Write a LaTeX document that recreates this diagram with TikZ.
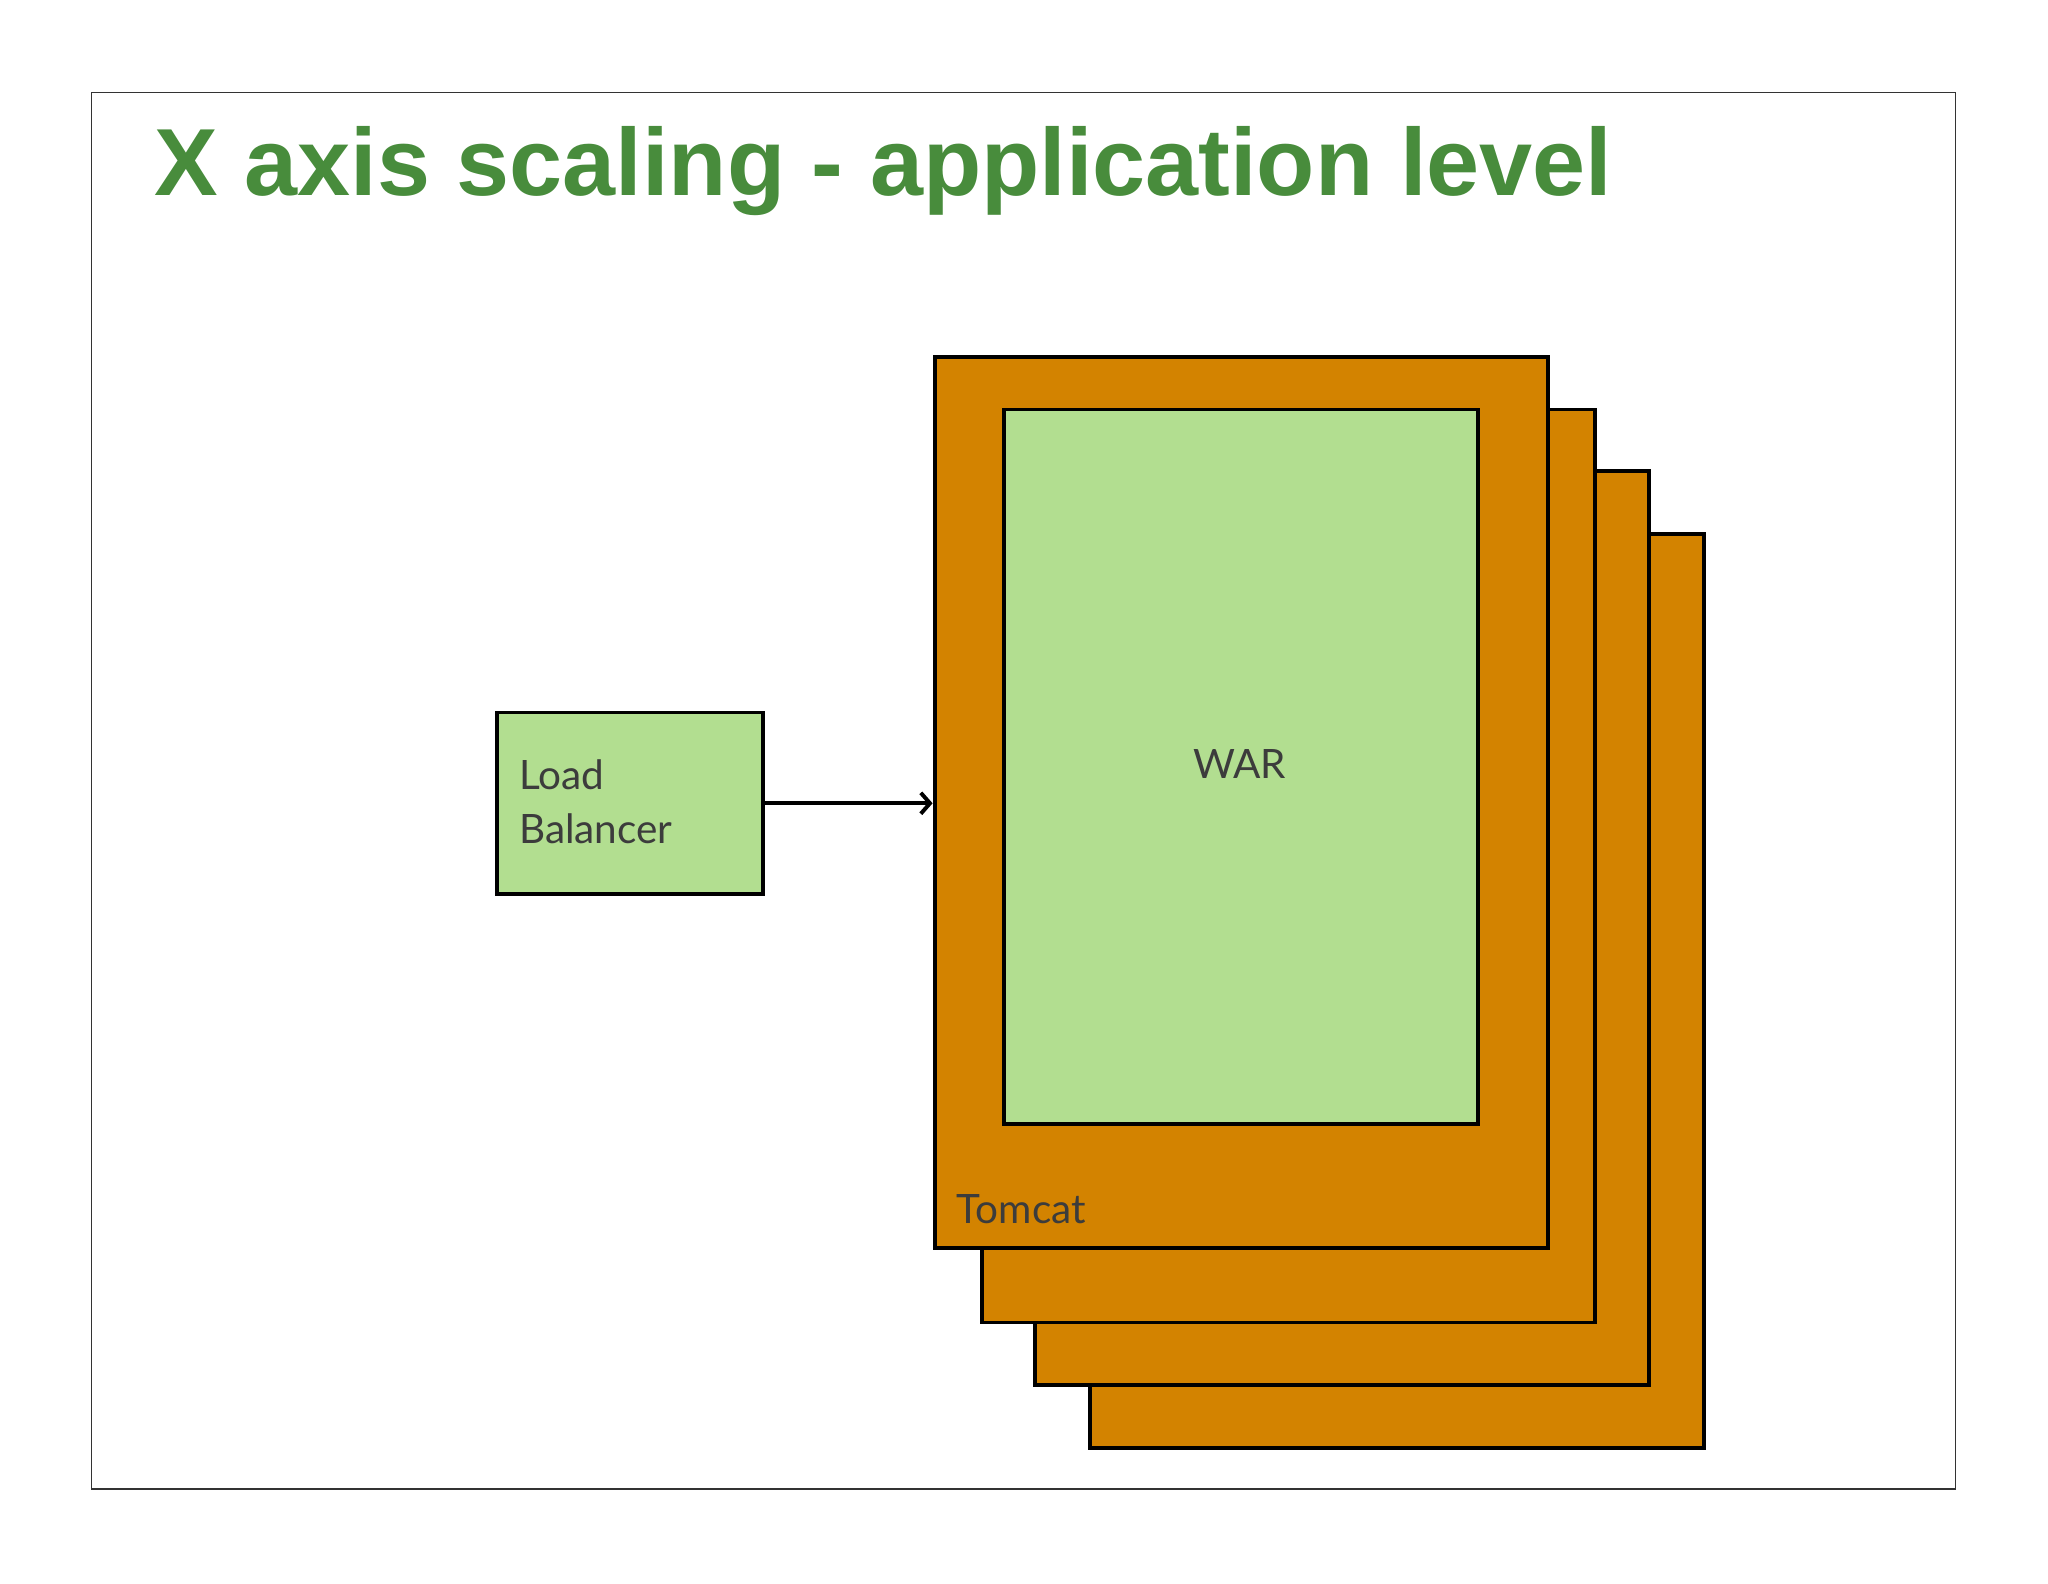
\documentclass[tikz,border=0pt]{standalone}
\usepackage{fontspec}
\setmainfont{Lato}
\newfontfamily\titlefont{Liberation Sans}
\usetikzlibrary{positioning,arrows.meta}
\definecolor{tomcatorange}{RGB}{211,131,0}
\definecolor{warlight}{RGB}{178,222,144}
\definecolor{titlegreen}{RGB}{72,140,60}
\definecolor{labelgray}{RGB}{60,60,60}
\tikzset{every picture/.style={line width=3pt}}
\tikzset{
  tomcatbox/.style={draw, fill=tomcatorange, anchor=north west, inner sep=0pt, minimum width=470pt, minimum height=682pt},
  greenbox/.style={draw, fill=warlight, anchor=north west, inner sep=0pt},
  lbl/.style={text=labelgray, font=\fontsize{31}{41}\selectfont, inner sep=0pt}
}
\begin{document}
\begin{tikzpicture}[x=1pt,y=1pt,yscale=-1]

\useasboundingbox (0,0) rectangle (1568,1212);
\draw [line width=1pt, black!80] (70,71) rectangle (1497,1140);

\node (title) [anchor=base west, inner sep=0pt, text=titlegreen, font=\titlefont\bfseries\fontsize{73}{80}\selectfont] at (117,150) {X axis scaling - application level};

% stacked tomcat instances, back to front
\node (tomcat4) [tomcatbox, minimum height=700pt] at (833,407) {};
\node (tomcat3) [tomcatbox, minimum height=700pt] at (791,359) {};
\node (tomcat2) [tomcatbox, minimum height=699pt] at (750,312) {};
\node (tomcat1) [tomcatbox] at (714,272) {};

\node (war) [greenbox, minimum width=363pt, minimum height=547pt] at (767,312) {};
\node (warlabel) [lbl] at (949,585) {WAR};
\node (tomcatlabel) [lbl, anchor=base west] at (731,937) {Tomcat};

\node (lb) [greenbox, minimum width=204pt, minimum height=139pt] at (379,544) {};
\node (lblabel) [lbl, anchor=west, align=left] at (396,614) {Load\\Balancer};

\draw [-{Straight Barb[length=7pt,width=16pt]}] (lb.east) -- (tomcat1.west |- lb.east);

\end{tikzpicture}
\end{document}
